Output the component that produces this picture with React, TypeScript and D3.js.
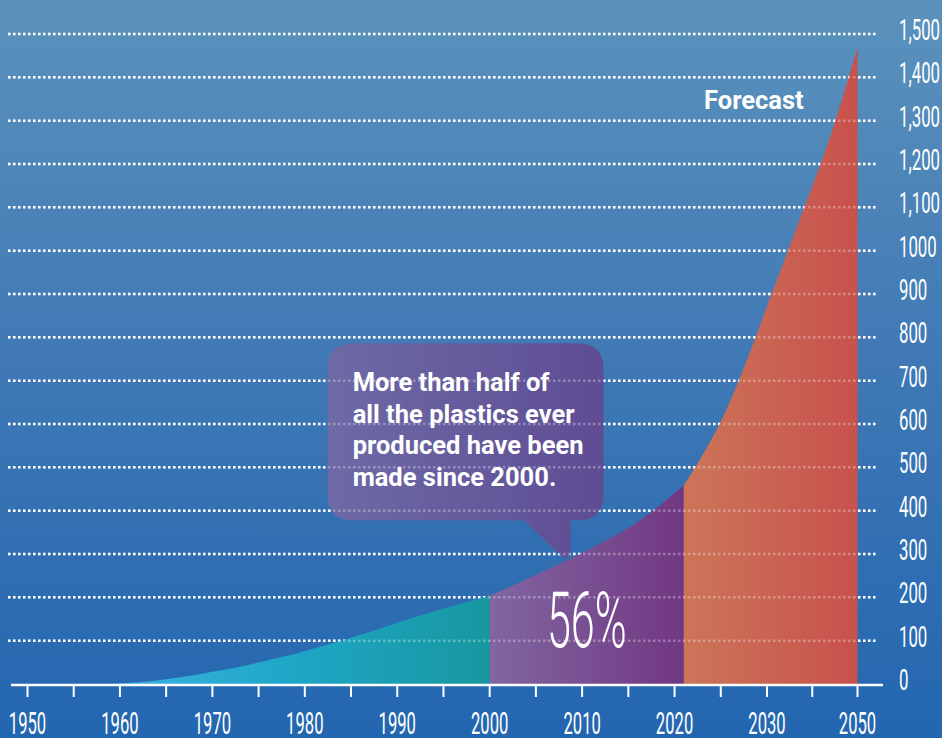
import React from "react";
import * as d3 from "d3";

// ---- data (million tonnes of plastic produced per year) ----
const historicYears = [1959, 1962, 1965, 1968, 1970, 1973, 1976, 1979, 1982, 1985, 1988, 1991, 1994, 1997, 2000];
const historicValues = [0, 4, 11, 20, 28, 40, 55, 70, 88, 107, 127, 148, 168, 186, 204];
const recentYears = [2000, 2003, 2006, 2009, 2012, 2015, 2018, 2021];
const recentValues = [204, 232, 262, 292, 325, 360, 405, 459];
const forecastYears = [2021, 2022, 2023, 2024, 2025, 2026, 2027, 2028, 2029, 2030, 2032, 2034, 2036, 2038, 2040, 2042, 2044, 2046, 2048, 2050];
const forecastValues = [459, 492, 528, 565, 606, 652, 703, 757, 813, 872, 927, 982, 1038, 1093, 1148, 1204, 1264, 1329, 1398, 1468];

const yTicks = [0, 100, 200, 300, 400, 500, 600, 700, 800, 900, 1000, 1100, 1200, 1300, 1400, 1500];
const yTickLabels = ["0", "100", "200", "300", "400", "500", "600", "700", "800", "900", "1000", "1,100", "1,200", "1,300", "1,400", "1,500"];
const xTickYears = [1950, 1955, 1960, 1965, 1970, 1975, 1980, 1985, 1990, 1995, 2000, 2005, 2010, 2015, 2020, 2025, 2030, 2040, 2050];
const xLabelYears = [1950, 1960, 1970, 1980, 1990, 2000, 2010, 2020, 2030, 2050];
const xTickLabels = ["1950", "1960", "1970", "1980", "1990", "2000", "2010", "2020", "2030", "2050"];

const bubbleLines = ["More than half of", "all the plastics ever", "produced have been", "made since 2000."];
const shareLabel = "56%";
const forecastLabel = "Forecast";
const bubbleAnchorYear = 2008;
const bubbleAnchorValue = 290;

const W = 942;
const H = 738;

export default function App() {
  const x = d3.scaleLinear().domain([1950, 2030, 2050]).range([27.5, 767, 857.5]);
  const y = d3.scaleLinear().domain([0, 1500]).range([684, 34]);

  const area = d3
    .area<[number, number]>()
    .x((d) => x(d[0]))
    .y0(y(0))
    .y1((d) => y(d[1]))
    .curve(d3.curveMonotoneX);

  const zip = (a: number[], b: number[]) => a.map((v, i) => [v, b[i]] as [number, number]);
  const histPath = area(zip(historicYears, historicValues)) || "";
  const recentPath = area(zip(recentYears, recentValues)) || "";
  const forecastPath = area(zip(forecastYears, forecastValues)) || "";

  const gridX0 = 8;
  const gridX1 = 878;

  const grid = (opacity: number, key: string) => (
    <g key={key} opacity={opacity}>
      {yTicks.slice(1).map((t) => (
        <line
          key={t}
          x1={gridX0}
          x2={gridX1}
          y1={y(t)}
          y2={y(t)}
          stroke="#fff"
          strokeWidth={2.5}
          strokeDasharray="2.5 2.5"
        />
      ))}
    </g>
  );

  // bubble geometry relative to anchor point on the curve
  const tipX = x(bubbleAnchorYear);
  const tipY = y(bubbleAnchorValue);
  const bx0 = tipX - 236;
  const bx1 = tipX + 40;
  const by0 = tipY - 215;
  const by1 = tipY - 38;
  const r = 26;
  const tailR = tipX + 7;
  const tailL = tipX - 40;
  const bubblePath = [
    `M${bx0 + r},${by0}`,
    `H${bx1 - r}`,
    `Q${bx1},${by0} ${bx1},${by0 + r}`,
    `V${by1 - r}`,
    `Q${bx1},${by1} ${bx1 - r},${by1}`,
    `H${tailR}`,
    `V${tipY - 8}`,
    `Q${tailR},${tipY} ${tipX},${tipY}`,
    `L${tailL},${by1}`,
    `H${bx0 + r}`,
    `Q${bx0},${by1} ${bx0},${by1 - r}`,
    `V${by0 + r}`,
    `Q${bx0},${by0} ${bx0 + r},${by0}`,
    "Z",
  ].join(" ");

  const condensed = "Roboto, 'DejaVu Sans', sans-serif";
  const ySx = 0.56;
  const xSx = 0.52;

  return (
    <svg
      width={W}
      height={H}
      viewBox={`0 0 ${W} ${H}`}
      style={{ position: "fixed", left: 0, top: 0, display: "block" }}
    >
      <defs>
        <linearGradient id="bg" x1="0" y1="0" x2="0" y2="1">
          <stop offset="0" stopColor="#5b92bc" />
          <stop offset="0.5" stopColor="#3f78b5" />
          <stop offset="1" stopColor="#2366b0" />
        </linearGradient>
        <linearGradient id="teal" gradientUnits="userSpaceOnUse" x1={x(1958)} x2={x(2000)} y1="0" y2="0">
          <stop offset="0" stopColor="#3cb3e4" />
          <stop offset="0.5" stopColor="#1ea6c6" />
          <stop offset="1" stopColor="#17979f" />
        </linearGradient>
        <linearGradient id="purple" gradientUnits="userSpaceOnUse" x1={x(2000)} x2={x(2021)} y1="0" y2="0">
          <stop offset="0" stopColor="#8066a2" />
          <stop offset="1" stopColor="#723782" />
        </linearGradient>
        <linearGradient id="red" gradientUnits="userSpaceOnUse" x1={x(2021)} x2={x(2050)} y1="0" y2="0">
          <stop offset="0" stopColor="#cc7559" />
          <stop offset="1" stopColor="#c8514c" />
        </linearGradient>
        <linearGradient id="bubble" gradientUnits="userSpaceOnUse" x1={bx0} x2={bx1} y1="0" y2="0">
          <stop offset="0" stopColor="#6d6aa6" />
          <stop offset="1" stopColor="#5f4c94" />
        </linearGradient>
      </defs>

      <rect x={0} y={0} width={W} height={H} fill="url(#bg)" />

      {grid(1, "grid")}

      <path d={histPath} fill="url(#teal)" />
      <path d={recentPath} fill="url(#purple)" />
      <path d={forecastPath} fill="url(#red)" />

      <path d={bubblePath} fill="url(#bubble)" />

      {grid(0.3, "grid-faint")}

      {/* baseline and ticks */}
      <line x1={11} x2={883} y1={y(0) + 1} y2={y(0) + 1} stroke="#fff" strokeWidth={2.6} />
      {xTickYears.map((t) => (
        <line key={t} x1={x(t)} x2={x(t)} y1={y(0) + 1} y2={y(0) + 13} stroke="#fff" strokeWidth={2} />
      ))}

      {/* x labels */}
      {xLabelYears.map((t, i) => (
        <g key={t} transform={`translate(${x(t)},${733.5}) scale(${xSx},1)`}>
          <text
            x={0}
            y={0}
            textAnchor="middle"
            fill="#fff"
            fontFamily={condensed}
            fontWeight={400}
            fontSize={32}
          >
            {xTickLabels[i]}
          </text>
        </g>
      ))}

      {/* y labels */}
      {yTicks.map((t, i) => (
        <g key={t} transform={`translate(${899},${y(t) + 6}) scale(${ySx},1)`}>
          <text x={0} y={0} fill="#fff" fontFamily={condensed} fontWeight={400} fontSize={30}>
            {yTickLabels[i]}
          </text>
        </g>
      ))}

      {/* bubble text */}
      <text fill="#fff" fontFamily="Roboto, sans-serif" fontWeight={700} fontSize={25.5}>
        {bubbleLines.map((l, i) => (
          <tspan key={i} x={bx0 + 25} y={by0 + 48 + i * 31.5}>
            {l}
          </tspan>
        ))}
      </text>

      {/* 56% */}
      <g transform={`translate(${x(2010.5)},${647}) scale(0.56,1)`}>
        <text x={0} y={0} textAnchor="middle" fill="#fff" fontFamily={condensed} fontWeight={300} fontSize={77}>
          {shareLabel}
        </text>
      </g>

      <text x={704} y={109} fill="#fff" fontFamily="Roboto, sans-serif" fontWeight={700} fontSize={25.5}>
        {forecastLabel}
      </text>
    </svg>
  );
}
